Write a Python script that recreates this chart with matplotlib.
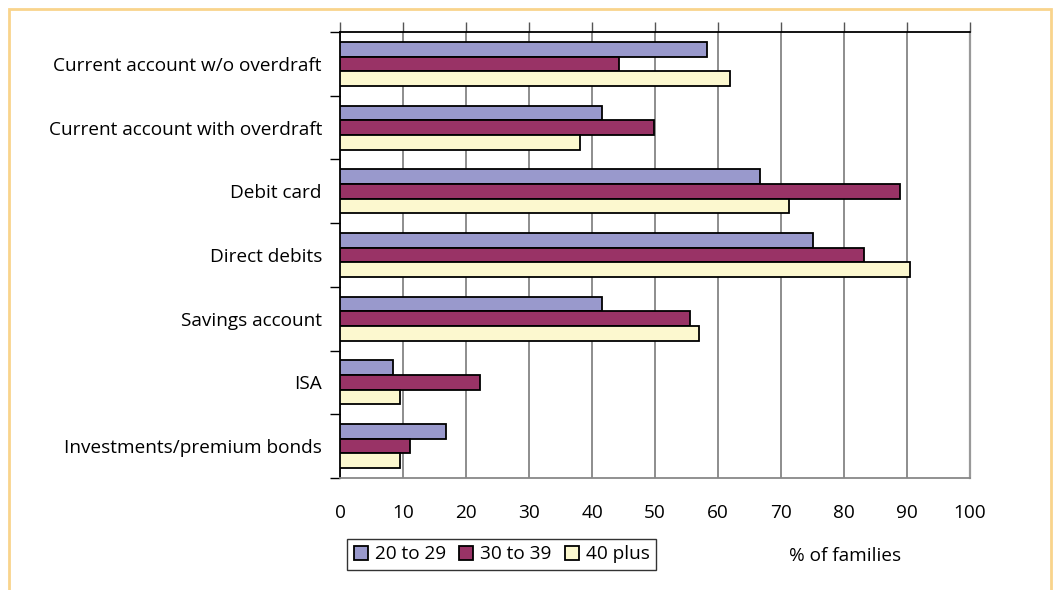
import numpy as np
import matplotlib.pyplot as plt
from matplotlib.patches import Rectangle

plt.rcParams['font.family'] = ['Open Sans', 'DejaVu Sans']

# Share of families holding each product, by age group of the household
categories = ['Current account w/o overdraft', 'Current account with overdraft',
              'Debit card', 'Direct debits', 'Savings account', 'ISA',
              'Investments/premium bonds']
age_groups = ['20 to 29', '30 to 39', '40 plus']
pct_20_29 = [58.3, 41.6, 66.7, 75.1, 41.6, 8.4, 16.8]
pct_30_39 = [44.3, 49.9, 88.9, 83.2, 55.6, 22.2, 11.1]
pct_40_plus = [61.9, 38.1, 71.3, 90.5, 57.0, 9.5, 9.5]
xticks = list(range(0, 101, 10))

colours = ['#9999CC', '#993366', '#FCF8CF']
fs = 13.7

fig = plt.figure(figsize=(10.53, 5.9), dpi=100)
ax = fig.add_axes([340/1053, 1 - 478/590, 630/1053, 446/590])

n = len(categories)
y = np.arange(n)
h = 0.23
for k, vals in enumerate([pct_20_29, pct_30_39, pct_40_plus]):
    ax.barh(y + (k - 1) * h, vals, height=h, color=colours[k],
            edgecolor='black', linewidth=1.3, label=age_groups[k], zorder=3)

ax.set_xlim(0, 100)
ax.set_ylim(n - 0.5, -0.5)
ax.set_xticks(xticks)
ax.set_xticklabels([str(t) for t in xticks], fontsize=fs)
ax.tick_params(axis='x', which='both', bottom=False, top=True, length=7,
               width=1, color='#555555', direction='out', pad=12)
ax.xaxis.grid(True, color='#6f6f6f', linewidth=1.1, zorder=0)

# category labels centred on the groups, ticks on the group boundaries
ax.set_yticks(np.arange(n + 1) - 0.5)
ax.set_yticklabels([])
ax.set_yticks(y, minor=True)
ax.set_yticklabels(categories, minor=True, fontsize=fs)
ax.tick_params(axis='y', which='major', length=7, width=1, color='black')
ax.tick_params(axis='y', which='minor', length=0, pad=13)

ax.spines['top'].set_color('black')
ax.spines['top'].set_linewidth(1.3)
ax.spines['left'].set_color('black')
ax.spines['left'].set_linewidth(1.3)
ax.spines['bottom'].set_color('#888888')
ax.spines['bottom'].set_linewidth(1.3)
ax.spines['right'].set_color('#999999')
ax.spines['right'].set_linewidth(1.6)

# legend box below the axis
leg = fig.legend(loc='lower left', bbox_to_anchor=(347/1053, 1 - 570/590),
                 ncol=3, fontsize=fs, frameon=True, fancybox=False,
                 handlelength=0.75, handleheight=0.75, handletextpad=0.35,
                 columnspacing=0.7, borderpad=0.35, borderaxespad=0)
leg.get_frame().set_edgecolor('black')
leg.get_frame().set_linewidth(1.0)

fig.text(845/1053, 1 - 556/590, '% of families', fontsize=fs,
         ha='center', va='center')

# thin orange outline round the whole chart
fig.patches.append(Rectangle((9/1053, -0.1), 1042/1053, 1.1 - 9/590,
                             transform=fig.transFigure, fill=False,
                             edgecolor='#F9D48C', linewidth=2))

fig.savefig('out.png', dpi=100)
